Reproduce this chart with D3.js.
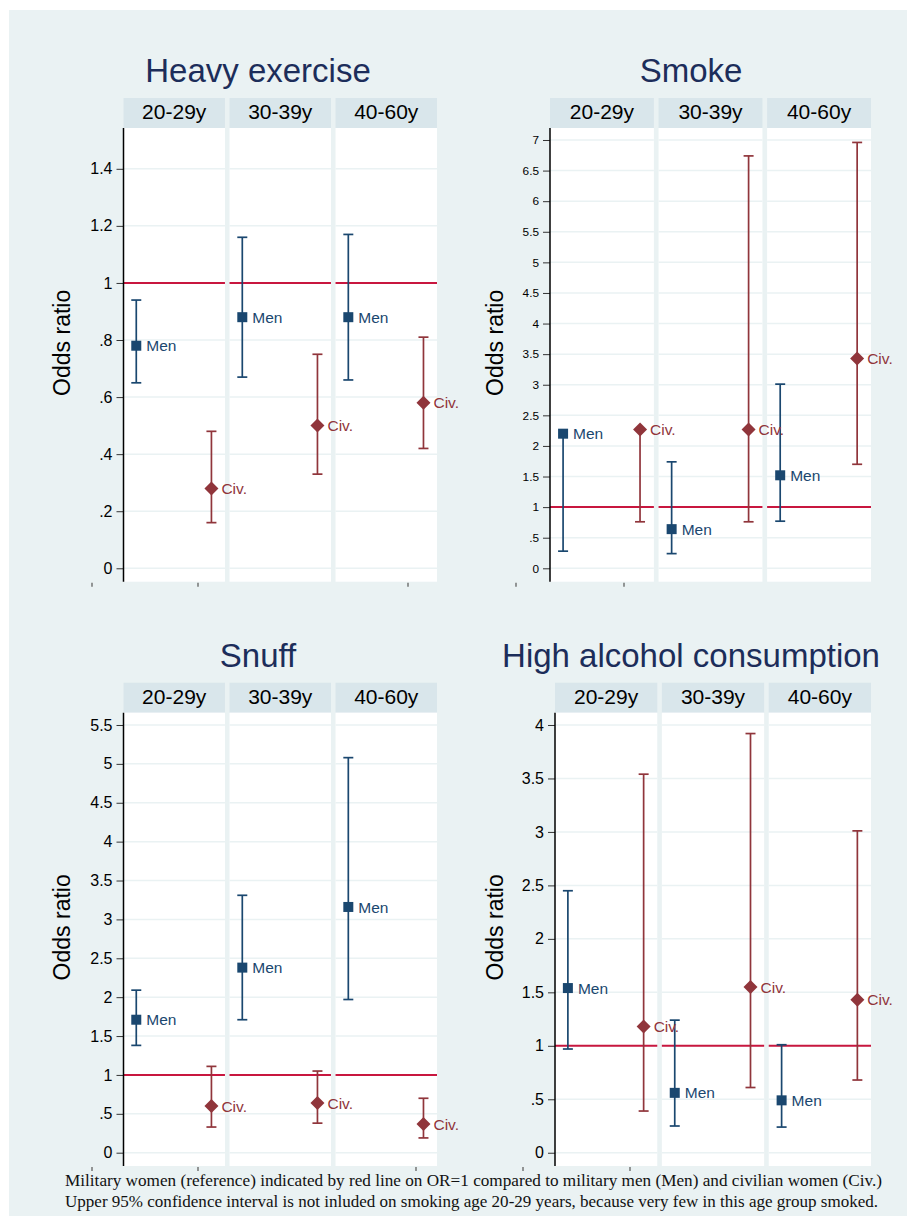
<!DOCTYPE html>
<html>
<head>
<meta charset="utf-8">
<script src="https://cdn.jsdelivr.net/npm/d3@7"></script>
<style>
  body { margin: 0; background: #ffffff; }
  svg { display: block; }
</style>
</head>
<body>
<script>
// ---------------- DATA ----------------
const ages = ["20-29y", "30-39y", "40-60y"];
const groupLabels = ["Men", "Civ."];
const titles = ["Heavy exercise", "Smoke", "Snuff", "High alcohol consumption"];
const yTitle = "Odds ratio";

// Heavy exercise
const heavyMen   = [0.78, 0.88, 0.88];
const heavyMenLo = [0.65, 0.67, 0.66];
const heavyMenHi = [0.94, 1.16, 1.17];
const heavyCiv   = [0.28, 0.50, 0.58];
const heavyCivLo = [0.16, 0.33, 0.42];
const heavyCivHi = [0.48, 0.75, 0.81];
const heavyTicks = [0, 0.2, 0.4, 0.6, 0.8, 1, 1.2, 1.4];
const heavyTickLabels = ["0", ".2", ".4", ".6", ".8", "1", "1.2", "1.4"];

// Smoke (upper CI not included for 20-29y)
const smokeMen   = [2.20, 0.64, 1.52];
const smokeMenLo = [0.28, 0.24, 0.77];
const smokeMenHi = [null, 1.74, 3.01];
const smokeCiv   = [2.27, 2.27, 3.43];
const smokeCivLo = [0.76, 0.76, 1.70];
const smokeCivHi = [null, 6.74, 6.96];
const smokeTicks = [0, 0.5, 1, 1.5, 2, 2.5, 3, 3.5, 4, 4.5, 5, 5.5, 6, 6.5, 7];
const smokeTickLabels = ["0", ".5", "1", "1.5", "2", "2.5", "3", "3.5", "4", "4.5", "5", "5.5", "6", "6.5", "7"];

// Snuff
const snuffMen   = [1.71, 2.38, 3.16];
const snuffMenLo = [1.38, 1.71, 1.97];
const snuffMenHi = [2.09, 3.31, 5.08];
const snuffCiv   = [0.60, 0.64, 0.37];
const snuffCivLo = [0.33, 0.38, 0.19];
const snuffCivHi = [1.11, 1.05, 0.70];
const snuffTicks = [0, 0.5, 1, 1.5, 2, 2.5, 3, 3.5, 4, 4.5, 5, 5.5];
const snuffTickLabels = ["0", ".5", "1", "1.5", "2", "2.5", "3", "3.5", "4", "4.5", "5", "5.5"];

// High alcohol consumption
const alcMen   = [1.54, 0.56, 0.49];
const alcMenLo = [0.97, 0.25, 0.24];
const alcMenHi = [2.45, 1.24, 1.01];
const alcCiv   = [1.18, 1.55, 1.43];
const alcCivLo = [0.39, 0.61, 0.68];
const alcCivHi = [3.54, 3.92, 3.01];
const alcTicks = [0, 0.5, 1, 1.5, 2, 2.5, 3, 3.5, 4];
const alcTickLabels = ["0", ".5", "1", "1.5", "2", "2.5", "3", "3.5", "4"];

const referenceOR = 1;
const footnotes = [
  "Military women (reference) indicated by red line on OR=1 compared to military men (Men) and civilian women (Civ.)",
  "Upper 95% confidence interval is not inluded on smoking age 20-29 years, because very few in this age group smoked."
];

const charts = [
  { title: titles[0], men: heavyMen, menLo: heavyMenLo, menHi: heavyMenHi, civ: heavyCiv, civLo: heavyCivLo, civHi: heavyCivHi, ticks: heavyTicks, tickLabels: heavyTickLabels },
  { title: titles[1], men: smokeMen, menLo: smokeMenLo, menHi: smokeMenHi, civ: smokeCiv, civLo: smokeCivLo, civHi: smokeCivHi, ticks: smokeTicks, tickLabels: smokeTickLabels },
  { title: titles[2], men: snuffMen, menLo: snuffMenLo, menHi: snuffMenHi, civ: snuffCiv, civLo: snuffCivLo, civHi: snuffCivHi, ticks: snuffTicks, tickLabels: snuffTickLabels },
  { title: titles[3], men: alcMen, menLo: alcMenLo, menHi: alcMenHi, civ: alcCiv, civLo: alcCivLo, civHi: alcCivHi, ticks: alcTicks, tickLabels: alcTickLabels }
];

// ---------------- LAYOUT ----------------
const layouts = [
  { left: 123.5, right: 437, stripTop: 98,    plotTop: 128,   plotBottom: 581.7, titleX: 258, titleY: 82,  yTitleX: 62,  tickFont: 16,   yDomain: [-0.047, 1.543], xTicks: [-31.5, 74.5, 284.5] },
  { left: 550,   right: 871, stripTop: 98,    plotTop: 128,   plotBottom: 581.7, titleX: 691, titleY: 82,  yTitleX: 495, tickFont: 11.8, yDomain: [-0.219, 7.196], xTicks: [-34, 74] },
  { left: 123.5, right: 437, stripTop: 682.7, plotTop: 712.7, plotBottom: 1166,  titleX: 258, titleY: 667, yTitleX: 62,  tickFont: 16,   yDomain: [-0.171, 5.658], xTicks: [-31.5, 74.5, 292.5] },
  { left: 555,   right: 871, stripTop: 682.7, plotTop: 712.7, plotBottom: 1166,  titleX: 691, titleY: 667, yTitleX: 495, tickFont: 16,   yDomain: [-0.124, 4.115], xTicks: [-32, 75] }
];

const COL = {
  bg: "#eaf2f3", strip: "#d9e6eb", grid: "#eaf2f3", ref: "#c8173f",
  men: "#1a476f", civ: "#90353b", title: "#1c2d5a", text: "#000000"
};
const SANS = "'Liberation Sans', Arial, Helvetica, sans-serif";
const SERIF = "'Liberation Serif', 'Times New Roman', serif";

// ---------------- DRAW ----------------
const svg = d3.select("body").append("svg")
  .attr("width", 907).attr("height", 1216)
  .attr("font-family", SANS);

svg.append("rect").attr("x", 9).attr("y", 10).attr("width", 898).attr("height", 1206).attr("fill", COL.bg);

const bgLayer = svg.append("g");
const markLayer = svg.append("g");
const labelLayer = svg.append("g");

charts.forEach((c, i) => {
  const L = layouts[i];

  const band = d3.scaleBand().domain(ages).range([L.left, L.right]).paddingInner(0.043).paddingOuter(0);
  const bw = band.bandwidth();
  const y = d3.scaleLinear().domain(L.yDomain).range([L.plotBottom, L.plotTop]);
  const x = d3.scaleLinear().domain([0.83, 2.18]).range([0, bw]);

  // Title
  bgLayer.append("text")
    .attr("x", L.titleX).attr("y", L.titleY)
    .attr("text-anchor", "middle")
    .attr("font-size", 33)
    .attr("fill", COL.title)
    .text(c.title);

  ages.forEach((a, j) => {
    const p = bgLayer.append("g").attr("transform", `translate(${band(a)},0)`);
    const m = markLayer.append("g").attr("transform", `translate(${band(a)},0)`);
    const t = labelLayer.append("g").attr("transform", `translate(${band(a)},0)`);

    // strip
    p.append("rect").attr("x", 0).attr("y", L.stripTop).attr("width", bw).attr("height", L.plotTop - L.stripTop).attr("fill", COL.strip);
    p.append("text").attr("x", bw / 2).attr("y", L.stripTop + 21).attr("text-anchor", "middle")
      .attr("font-size", 21).attr("fill", COL.text).text(a);

    // plot bg
    p.append("rect").attr("x", 0).attr("y", L.plotTop).attr("width", bw).attr("height", L.plotBottom - L.plotTop).attr("fill", "#ffffff");

    // grid
    p.selectAll("line.grid").data(c.ticks).join("line").attr("class", "grid")
      .attr("x1", 0).attr("x2", bw)
      .attr("y1", d => y(d)).attr("y2", d => y(d))
      .attr("stroke", COL.grid).attr("stroke-width", 1.5);

    // reference line
    p.append("line").attr("x1", 0).attr("x2", bw)
      .attr("y1", y(referenceOR)).attr("y2", y(referenceOR))
      .attr("stroke", COL.ref).attr("stroke-width", 2);

    const series = [
      { label: groupLabels[0], xv: 1, est: c.men[j], lo: c.menLo[j], hi: c.menHi[j], color: COL.men, shape: "square" },
      { label: groupLabels[1], xv: 2, est: c.civ[j], lo: c.civLo[j], hi: c.civHi[j], color: COL.civ, shape: "diamond" }
    ];

    series.forEach(s => {
      const cx = x(s.xv);
      const top = s.hi == null ? s.est : s.hi;
      m.append("line").attr("x1", cx).attr("x2", cx)
        .attr("y1", y(s.lo)).attr("y2", y(top))
        .attr("stroke", s.color).attr("stroke-width", 1.7);
      const caps = s.hi == null ? [s.lo] : [s.lo, s.hi];
      caps.forEach(v => {
        m.append("line").attr("x1", cx - 5).attr("x2", cx + 5)
          .attr("y1", y(v)).attr("y2", y(v))
          .attr("stroke", s.color).attr("stroke-width", 1.7);
      });
    });
    series.forEach(s => {
      const cx = x(s.xv), cy = y(s.est);
      if (s.shape === "square") {
        t.append("rect").attr("x", cx - 5).attr("y", cy - 5).attr("width", 10).attr("height", 10).attr("fill", s.color);
      } else {
        const r = 7;
        t.append("path").attr("d", `M${cx},${cy - r}L${cx + r},${cy}L${cx},${cy + r}L${cx - r},${cy}Z`).attr("fill", s.color);
      }
      t.append("text").attr("x", cx + 10).attr("y", cy).attr("dy", "0.36em")
        .attr("font-size", 15.5).attr("fill", s.color).text(s.label);
    });
  });

  // Y axis
  const axis = d3.axisLeft(y)
    .tickValues(c.ticks)
    .tickFormat((d, k) => c.tickLabels[k])
    .tickSize(7).tickPadding(4);
  const ag = bgLayer.append("g").attr("transform", `translate(${L.left},0)`).call(axis);
  ag.select(".domain").remove();
  ag.selectAll(".tick line").attr("stroke", "#333").attr("stroke-width", 1);
  ag.selectAll(".tick text").attr("font-size", L.tickFont).attr("font-family", SANS).attr("fill", COL.text);
  bgLayer.append("line").attr("x1", L.left).attr("x2", L.left)
    .attr("y1", L.plotTop).attr("y2", L.plotBottom)
    .attr("stroke", "#000").attr("stroke-width", 1.5);

  // Y title
  const yc = (L.stripTop + L.plotBottom) / 2 + 3;
  bgLayer.append("text")
    .attr("transform", `translate(${L.yTitleX},${yc}) rotate(-90)`)
    .attr("text-anchor", "middle").attr("dy", "0.36em")
    .attr("font-size", 23).attr("fill", COL.text)
    .text(yTitle);

  // small x-axis ticks below panel row
  L.xTicks.forEach(tk => {
    bgLayer.append("line").attr("x1", L.left + tk).attr("x2", L.left + tk)
      .attr("y1", L.plotBottom + 1).attr("y2", L.plotBottom + 5)
      .attr("stroke", "#555").attr("stroke-width", 1.2);
  });
});

// Footnotes
const fnWidths = [817, 813];
footnotes.forEach((t, k) => {
  svg.append("text")
    .attr("x", 65).attr("y", 1186 + k * 21)
    .attr("font-family", SERIF).attr("font-size", 17)
    .attr("fill", "#111")
    .attr("textLength", fnWidths[k]).attr("lengthAdjust", "spacingAndGlyphs")
    .text(t);
});
</script>
</body>
</html>
